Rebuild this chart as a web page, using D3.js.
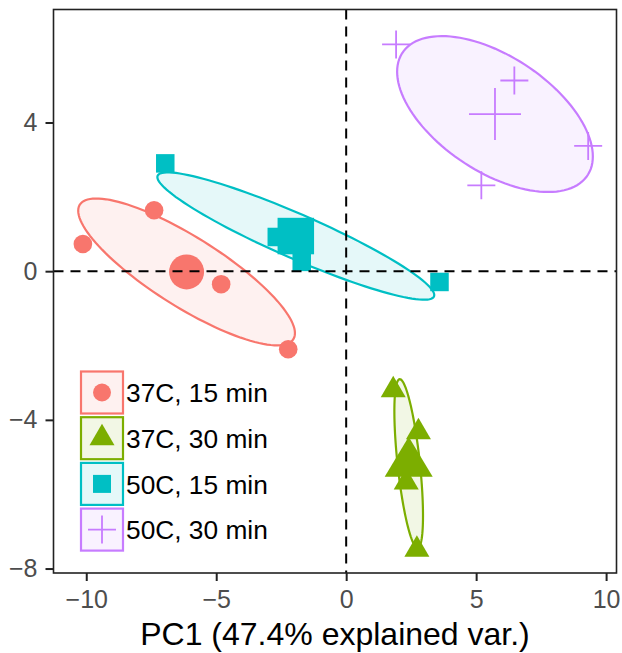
<!DOCTYPE html>
<html>
<head>
<meta charset="utf-8">
<script src="https://cdn.jsdelivr.net/npm/d3@7"></script>
<style>
  html, body { margin: 0; padding: 0; background: #ffffff; }
  svg { display: block; }
</style>
</head>
<body>
<svg id="chart" width="622" height="653"></svg>
<script>
// PCA scores per treatment group (PC1, PC2)
const groups = ["37C, 15 min", "37C, 30 min", "50C, 15 min", "50C, 30 min"];
const groupColors = ["#F8766D", "#7CAE00", "#00BFC4", "#C77CFF"];
const groupShapes = ["circle", "triangle", "square", "cross"];

const pc1_37C_15 = [-10.13, -7.39, -4.81, -2.23];
const pc2_37C_15 = [0.73, 1.64, -0.35, -2.10];

const pc1_37C_30 = [1.81, 2.78, 2.31, 2.72];
const pc2_37C_30 = [-3.20, -4.33, -5.68, -7.49];

const pc1_50C_15 = [-6.96, -2.67, -1.71, 3.59];
const pc2_50C_15 = [2.90, 0.92, 0.25, -0.29];

const pc1_50C_30 = [1.92, 6.47, 9.31, 5.20];
const pc2_50C_30 = [6.10, 5.13, 3.37, 2.31];

const xTicks = [-10, -5, 0, 5, 10];
const yTicks = [-8, -4, 0, 4];
const xTitle = "PC1 (47.4% explained var.)";
const ellipseLevel = 0.53;   // normal-probability ellipse level

const groupData = [
  { pc1: pc1_37C_15, pc2: pc2_37C_15 },
  { pc1: pc1_37C_30, pc2: pc2_37C_30 },
  { pc1: pc1_50C_15, pc2: pc2_50C_15 },
  { pc1: pc1_50C_30, pc2: pc2_50C_30 }
];

// ---- layout ----
const W = 622, H = 653;
const panel = { left: 53.5, right: 616.5, top: 9.5, bottom: 573 };
const FONT = "'Liberation Sans', Arial, Helvetica, sans-serif";

const x = d3.scaleLinear().domain([-11.26, 10.4]).range([panel.left, panel.right]);
const y = d3.scaleLinear().domain([-8.12, 7.04]).range([panel.bottom, panel.top]);

const svg = d3.select("#chart");
svg.append("rect").attr("width", W).attr("height", H).attr("fill", "#ffffff");

const defs = svg.append("defs");
defs.append("clipPath").attr("id", "panelClip")
  .append("rect")
  .attr("x", panel.left).attr("y", panel.top)
  .attr("width", panel.right - panel.left).attr("height", panel.bottom - panel.top);

const plot = svg.append("g").attr("clip-path", "url(#panelClip)");

// ---- marker shapes ----
const smallSize = { circle: 9.3, square: 18.5, triW: 25, triH: 21.5, cross: 28 };
const bigSize   = { circle: 17.5, square: 36.5, triW: 48, triH: 40, cross: 52 };

function drawMarker(g, shape, cx, cy, sz, color) {
  if (shape === "circle") {
    g.append("circle").attr("cx", cx).attr("cy", cy).attr("r", sz.circle).attr("fill", color);
  } else if (shape === "square") {
    const s = sz.square;
    g.append("rect").attr("x", cx - s / 2).attr("y", cy - s / 2)
      .attr("width", s).attr("height", s).attr("fill", color);
  } else if (shape === "triangle") {
    const w = sz.triW, h = sz.triH;
    const top = cy - h * 2 / 3, base = cy + h / 3;
    g.append("path")
      .attr("d", `M${cx},${top}L${cx + w / 2},${base}L${cx - w / 2},${base}Z`)
      .attr("fill", color);
  } else if (shape === "cross") {
    const half = sz.cross / 2;
    g.append("path")
      .attr("d", `M${cx - half},${cy}H${cx + half}M${cx},${cy - half}V${cy + half}`)
      .attr("stroke", color).attr("stroke-width", 1.8).attr("fill", "none");
  }
}

// ---- ellipses (mean + r * circle %*% chol(cov)) ----
const radius = Math.sqrt(-2 * Math.log(1 - ellipseLevel));
function ellipsePoints(px, py) {
  const n = px.length;
  const mx = d3.mean(px), my = d3.mean(py);
  let a = 0, b = 0, c = 0;
  for (let i = 0; i < n; i++) {
    const dx = px[i] - mx, dy = py[i] - my;
    a += dx * dx; b += dx * dy; c += dy * dy;
  }
  a /= (n - 1); b /= (n - 1); c /= (n - 1);
  const r11 = Math.sqrt(a), r12 = b / r11, r22 = Math.sqrt(Math.max(c - r12 * r12, 0));
  const pts = [];
  for (let k = 0; k <= 120; k++) {
    const t = -Math.PI + 2 * Math.PI * k / 120;
    const u = Math.cos(t), v = Math.sin(t);
    pts.push([mx + radius * u * r11, my + radius * (u * r12 + v * r22)]);
  }
  return pts;
}

const line = d3.line().x(d => x(d[0])).y(d => y(d[1]));

groupData.forEach((gd, i) => {
  plot.append("path")
    .attr("d", line(ellipsePoints(gd.pc1, gd.pc2)) + "Z")
    .attr("fill", groupColors[i]).attr("fill-opacity", 0.1)
    .attr("stroke", groupColors[i]).attr("stroke-width", 2.2);
});

// ---- points and group means ----
groupData.forEach((gd, i) => {
  const g = plot.append("g");
  gd.pc1.forEach((v, j) => {
    drawMarker(g, groupShapes[i], x(v), y(gd.pc2[j]), smallSize, groupColors[i]);
  });
  drawMarker(g, groupShapes[i], x(d3.mean(gd.pc1)), y(d3.mean(gd.pc2)), bigSize, groupColors[i]);
});

// ---- reference lines at zero ----
plot.append("line")
  .attr("x1", panel.left).attr("x2", panel.right)
  .attr("y1", y(0)).attr("y2", y(0))
  .attr("stroke", "#000").attr("stroke-width", 2).attr("stroke-dasharray", "10,7");
plot.append("line")
  .attr("x1", x(0)).attr("x2", x(0))
  .attr("y1", panel.top).attr("y2", panel.bottom)
  .attr("stroke", "#000").attr("stroke-width", 2).attr("stroke-dasharray", "10,7");

// ---- legend inside the panel ----
const legend = svg.append("g").attr("transform", "translate(81,371.5)");
const keySize = 42, keyStep = 45.7;
const legendSize = { circle: 9, square: 18, triW: 25, triH: 21.5, cross: 28 };
groups.forEach((name, i) => {
  const g = legend.append("g").attr("transform", `translate(0,${i * keyStep})`);
  g.append("rect")
    .attr("x", 0).attr("y", 0).attr("width", keySize).attr("height", keySize)
    .attr("fill", groupColors[i]).attr("fill-opacity", 0.1)
    .attr("stroke", groupColors[i]).attr("stroke-width", 2.2);
  drawMarker(g, groupShapes[i], keySize / 2, keySize / 2, legendSize, groupColors[i]);
  g.append("text")
    .attr("x", keySize + 3).attr("y", keySize / 2 + 9.8)
    .attr("font-family", FONT).attr("font-size", 26.3).attr("fill", "#000")
    .text(name);
});

// ---- panel border ----
svg.append("rect")
  .attr("x", panel.left).attr("y", panel.top)
  .attr("width", panel.right - panel.left).attr("height", panel.bottom - panel.top)
  .attr("fill", "none").attr("stroke", "#222").attr("stroke-width", 1.6);

// ---- axes ----
const xAxis = svg.append("g")
  .attr("transform", `translate(0,${panel.bottom})`)
  .call(d3.axisBottom(x).tickValues(xTicks).tickSize(8).tickPadding(9));
const yAxis = svg.append("g")
  .attr("transform", `translate(${panel.left},0)`)
  .call(d3.axisLeft(y).tickValues(yTicks).tickSize(8).tickPadding(8));

[xAxis, yAxis].forEach(ax => {
  ax.select(".domain").remove();
  ax.selectAll(".tick line").attr("stroke", "#222").attr("stroke-width", 2);
  ax.selectAll(".tick text")
    .attr("font-family", FONT).attr("font-size", 25).attr("fill", "#4D4D4D");
});

svg.append("text")
  .attr("x", (panel.left + panel.right) / 2).attr("y", 645)
  .attr("text-anchor", "middle")
  .attr("font-family", FONT).attr("font-size", 32).attr("fill", "#000")
  .text(xTitle);
</script>
</body>
</html>
